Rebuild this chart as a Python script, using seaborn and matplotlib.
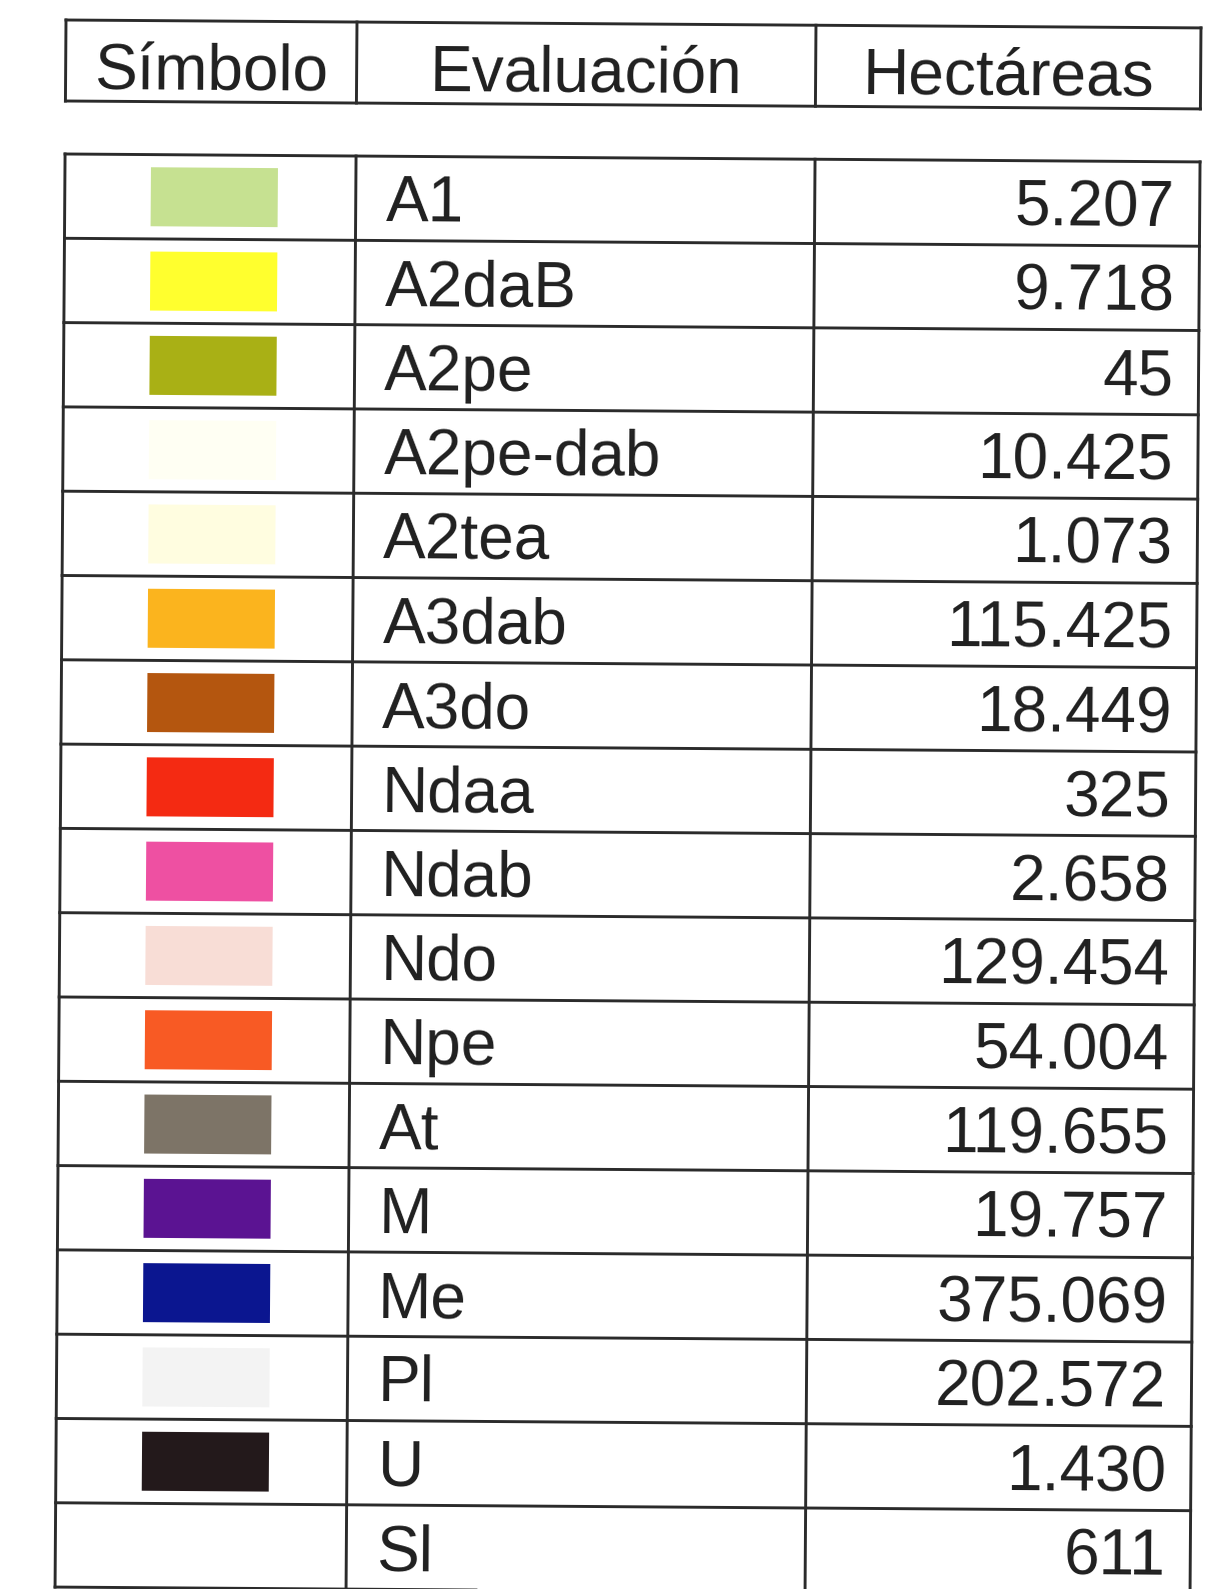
import matplotlib.pyplot as plt
import matplotlib.transforms as mtransforms
from matplotlib.patches import Rectangle
import seaborn as sns

# table contents
headers = ["Símbolo", "Evaluación", "Hectáreas"]
evaluaciones = ["A1", "A2daB", "A2pe", "A2pe-dab", "A2tea", "A3dab", "A3do", "Ndaa", "Ndab",
                "Ndo", "Npe", "At", "M", "Me", "Pl", "U", "Sl"]
hectareas = [5207, 9718, 45, 10425, 1073, 115425, 18449, 325, 2658,
             129454, 54004, 119655, 19757, 375069, 202572, 1430, 611]
simbolos = ["#c6e191", "#ffff2e", "#a9b015", "#fffff3", "#fffde0", "#fbb41e", "#b4560f",
            "#f42a12", "#ee50a2", "#f8ddd6", "#f85a24", "#7d7467", "#5b1392", "#0b1690",
            "#f3f3f3", "#23191b", None]

sns.set_theme(style="white")
plt.rcParams['font.family'] = ['Liberation Sans', 'DejaVu Sans']

W, H = 1210, 1589
COL_X = [66, 357, 816, 1201]
HEAD_TOP, HEAD_BOT = 20, 101
BODY_TOP = 154
ROW_H = 84.3
ANGLE = 0.4  # the scan is slightly rotated
LINE = dict(color="#2b2b2b", lw=2.1, solid_capstyle="projecting", clip_on=False)
TXT = dict(fontsize=46, color="#1f1f1f", rotation=-ANGLE, rotation_mode="anchor")

fig = plt.figure(figsize=(W / 100, H / 100), dpi=100)
ax = fig.add_axes([0, 0, 1, 1])
ax.set_xlim(0, W)
ax.set_ylim(H, 0)
ax.axis("off")
tr = mtransforms.Affine2D().rotate_deg_around(COL_X[0], HEAD_TOP, ANGLE) + ax.transData

# header box
for y in (HEAD_TOP, HEAD_BOT):
    ax.plot([COL_X[0], COL_X[-1]], [y, y], transform=tr, **LINE)
for x in COL_X:
    ax.plot([x, x], [HEAD_TOP, HEAD_BOT], transform=tr, **LINE)
for i, h in enumerate(headers):
    cx = (COL_X[i] + COL_X[i + 1]) / 2
    ax.text(cx, HEAD_TOP + 68, h, ha="center", va="baseline", transform=tr, **TXT)

# body grid
n = len(evaluaciones)
body_bot = BODY_TOP + n * ROW_H
for i in range(n + 1):
    y = BODY_TOP + i * ROW_H
    ax.plot([COL_X[0], COL_X[-1]], [y, y], transform=tr, **LINE)
for x in COL_X:
    ax.plot([x, x], [BODY_TOP, body_bot], transform=tr, **LINE)

sw_w, sw_h = 127, 59
for i, (ev, ha_val, col) in enumerate(zip(evaluaciones, hectareas, simbolos)):
    top = BODY_TOP + i * ROW_H
    if col is not None:
        ax.add_patch(Rectangle((COL_X[0] + 86, top + (ROW_H - sw_h) / 2), sw_w, sw_h,
                               facecolor=col, edgecolor="none", transform=tr))
    ax.text(COL_X[1] + 30, top + 65, ev, ha="left", va="baseline", transform=tr, **TXT)
    label = f"{ha_val:,}".replace(",", ".")
    ax.text(COL_X[3] - 25, top + 65, label, ha="right", va="baseline", transform=tr, **TXT)

fig.savefig("out.png", dpi=100, facecolor="white")
